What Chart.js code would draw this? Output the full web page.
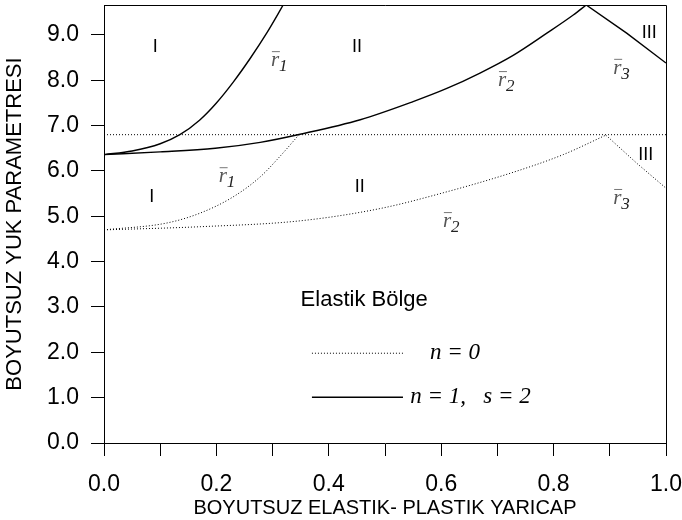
<!DOCTYPE html>
<html>
<head>
<meta charset="utf-8">
<script src="https://cdn.jsdelivr.net/npm/chart.js@4/dist/chart.umd.min.js"></script>
<style>
  html, body { margin: 0; padding: 0; background: #fff; }
  #wrap { width: 682px; height: 520px; }
</style>
</head>
<body>
<div id="wrap"><canvas id="c" width="682" height="520"></canvas></div>
<script>
// ---- data ----
const xTitle = 'BOYUTSUZ ELASTIK- PLASTIK YARICAP';
const yTitle = 'BOYUTSUZ YUK PARAMETRESI';

// n = 1, s = 2 (solid)
const solidR1X = [0, 0.05, 0.1, 0.135, 0.17, 0.2, 0.23, 0.26, 0.29, 0.31, 0.325];
const solidR1Y = [6.36, 6.44, 6.60, 6.80, 7.12, 7.50, 7.96, 8.48, 9.05, 9.47, 9.80];
const solidR2X = [0, 0.1, 0.198, 0.278, 0.349, 0.456, 0.55, 0.61, 0.669, 0.728, 0.788, 0.835, 0.858];
const solidR2Y = [6.36, 6.42, 6.50, 6.63, 6.81, 7.13, 7.53, 7.82, 8.16, 8.55, 9.04, 9.44, 9.66];
const solidR3X = [0.858, 0.93, 1.0];
const solidR3Y = [9.66, 9.04, 8.38];

// n = 0 (dotted)
const dotR1X = [0, 0.111, 0.171, 0.230, 0.278, 0.313, 0.347];
const dotR1Y = [4.70, 4.85, 5.07, 5.43, 5.87, 6.32, 6.80];
const dotR2X = [0, 0.171, 0.349, 0.491, 0.610, 0.728, 0.817, 0.893];
const dotR2Y = [4.70, 4.77, 4.90, 5.17, 5.54, 5.97, 6.36, 6.79];
const dotR3X = [0.893, 0.948, 1.0];
const dotR3Y = [6.79, 6.17, 5.62];

// limit line (dotted)
const limitX = [0, 1];
const limitY = [6.8, 6.8];

const regionNames = ['I', 'II', 'III'];
const radiusNames = ['1', '2', '3'];
const legendNames = ['n = 0', 'n = 1,   s = 2'];
const zoneName = 'Elastik Bölge';

// ---- helpers ----
const pts = (xs, ys) => xs.map((x, i) => ({ x: x, y: ys[i] }));
const SANS = '"Liberation Sans", Arial, sans-serif';
const SERIF = '"Liberation Serif", "Times New Roman", serif';

const solidStyle = { borderColor: '#000', borderWidth: 1.4, pointRadius: 0, showLine: true, fill: false, cubicInterpolationMode: 'monotone' };
const dotStyle = { borderColor: '#000', borderWidth: 1, borderDash: [1, 2], pointRadius: 0, showLine: true, fill: false, cubicInterpolationMode: 'monotone' };

const datasets = [
  Object.assign({ label: 'n=1 r1', data: pts(solidR1X, solidR1Y) }, solidStyle),
  Object.assign({ label: 'n=1 r2', data: pts(solidR2X, solidR2Y) }, solidStyle),
  Object.assign({ label: 'n=1 r3', data: pts(solidR3X, solidR3Y) }, solidStyle, { cubicInterpolationMode: 'default', tension: 0 }),
  Object.assign({ label: 'n=0 r1', data: pts(dotR1X, dotR1Y) }, dotStyle),
  Object.assign({ label: 'n=0 r2', data: pts(dotR2X, dotR2Y) }, dotStyle),
  Object.assign({ label: 'n=0 r3', data: pts(dotR3X, dotR3Y) }, dotStyle, { cubicInterpolationMode: 'default', tension: 0 }),
  Object.assign({ label: 'limit', data: pts(limitX, limitY) }, dotStyle)
];

// annotation placement (data coordinates)
const regionPos = [[0.091, 8.73, 0], [0.085, 5.43, 0], [0.45, 8.73, 1], [0.455, 5.65, 1], [0.97, 9.04, 2], [0.964, 6.35, 2]];
const radiusPos = [[0.313, 8.40, 0], [0.22, 5.84, 0], [0.717, 7.96, 1], [0.619, 4.85, 1], [0.922, 8.23, 2], [0.922, 5.36, 2]];

const annot = {
  id: 'annot',
  afterDraw(chart) {
    const ctx = chart.ctx;
    const xs = chart.scales.x, ys = chart.scales.y;
    const ca = chart.chartArea;
    const X = v => xs.getPixelForValue(v), Y = v => ys.getPixelForValue(v);
    ctx.save();
    // frame: top and right
    ctx.strokeStyle = '#000'; ctx.lineWidth = 1;
    ctx.beginPath();
    ctx.moveTo(ca.left, ca.top + 0.5); ctx.lineTo(ca.right + 0.5, ca.top + 0.5); ctx.lineTo(ca.right + 0.5, ca.bottom);
    ctx.stroke();

    ctx.fillStyle = '#000';
    ctx.textAlign = 'center'; ctx.textBaseline = 'middle';
    ctx.font = '18px ' + SANS;
    regionPos.forEach(p => ctx.fillText(regionNames[p[2]], X(p[0]), Y(p[1])));

    // r-bar labels
    radiusPos.forEach(p => {
      const cx = X(p[0]), cy = Y(p[1]);
      ctx.fillStyle = '#555';
      ctx.font = 'italic 21px ' + SERIF;
      ctx.textAlign = 'left'; ctx.textBaseline = 'alphabetic';
      const rx = cx - 9, ry = cy + 4;
      ctx.fillText('r', rx, ry);
      ctx.strokeStyle = '#777'; ctx.lineWidth = 1;
      ctx.beginPath(); ctx.moveTo(rx + 1, ry - 14.5); ctx.lineTo(rx + 9, ry - 14.5); ctx.stroke();
      ctx.fillStyle = '#222';
      ctx.font = 'italic 17px ' + SERIF;
      ctx.fillText(radiusNames[p[2]], rx + 8, ry + 5);
    });

    // Elastic zone label
    ctx.fillStyle = '#000';
    ctx.font = '22px ' + SANS;
    ctx.textAlign = 'center'; ctx.textBaseline = 'middle';
    ctx.fillText(zoneName, X(0.463), Y(3.15));

    // legend
    ctx.strokeStyle = '#000';
    ctx.lineWidth = 1; ctx.setLineDash([1, 2]);
    ctx.beginPath(); ctx.moveTo(X(0.37), Y(1.98)); ctx.lineTo(X(0.532), Y(1.98)); ctx.stroke();
    ctx.setLineDash([]); ctx.lineWidth = 1.4;
    ctx.beginPath(); ctx.moveTo(X(0.37), Y(1.01)); ctx.lineTo(X(0.532), Y(1.01)); ctx.stroke();
    ctx.fillStyle = '#000';
    ctx.font = 'italic 23px ' + SERIF;
    ctx.textAlign = 'left'; ctx.textBaseline = 'middle';
    ctx.fillText(legendNames[0], X(0.58), Y(1.98));
    ctx.fillText(legendNames[1], X(0.545), Y(1.01));
    ctx.restore();
  }
};

new Chart(document.getElementById('c'), {
  type: 'scatter',
  data: { datasets: datasets },
  options: {
    responsive: false,
    animation: false,
    layout: { padding: { top: 5, right: 16, left: 0, bottom: 0 } },
    plugins: { legend: { display: false }, tooltip: { enabled: false } },
    elements: { line: { tension: 0.4 } },
    scales: {
      x: {
        type: 'linear', min: 0, max: 1,
        afterFit: s => { s.height = 77; s.paddingLeft = 0; s.paddingRight = 0; },
        border: { color: '#000', width: 1 },
        grid: { drawOnChartArea: false, drawTicks: true, tickLength: 13, color: '#000' },
        ticks: {
          stepSize: 0.1, autoSkip: false, maxRotation: 0, padding: 15, color: '#000',
          font: { family: SANS, size: 23 },
          callback: v => (Math.round(v * 10) % 2 === 0 ? v.toFixed(1) : '')
        },
        title: { display: true, text: xTitle, color: '#000', font: { family: SANS, size: 20 }, padding: { top: 0, bottom: 0 } }
      },
      y: {
        type: 'linear', min: 0, max: 9.66,
        afterFit: s => { s.width = 104; s.paddingTop = 0; s.paddingBottom = 0; },
        border: { color: '#000', width: 1 },
        grid: { drawOnChartArea: false, drawTicks: true, tickLength: 13, color: '#000' },
        ticks: {
          stepSize: 1, includeBounds: false, padding: 12, color: '#000',
          font: { family: SANS, size: 23 },
          callback: v => v.toFixed(1)
        },
        title: { display: true, text: yTitle, color: '#000', font: { family: SANS, size: 22 }, padding: { top: 2, bottom: 0 } }
      }
    }
  },
  plugins: [annot]
});
</script>
</body>
</html>
